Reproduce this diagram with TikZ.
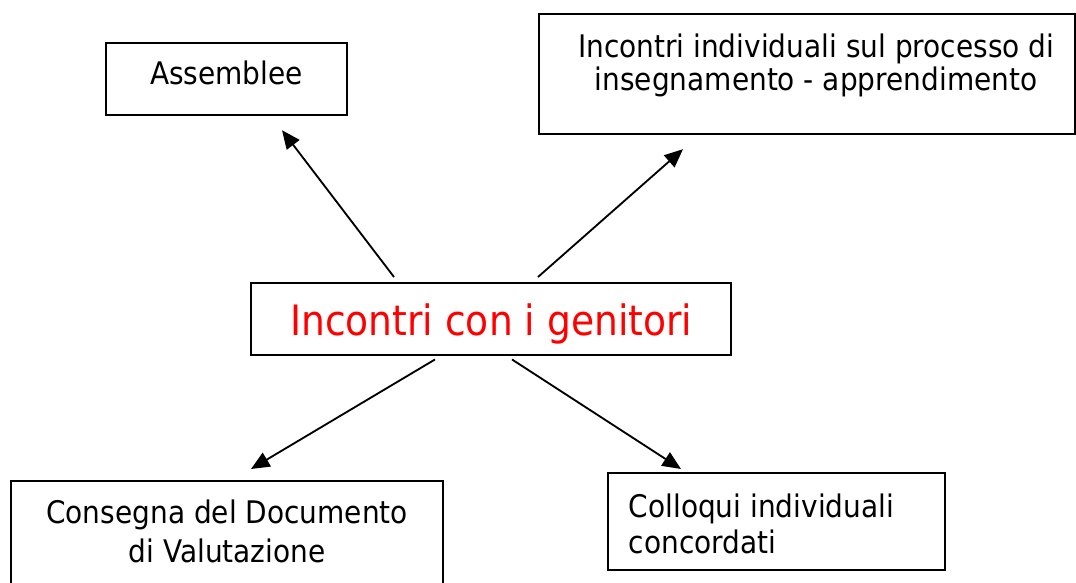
\documentclass[tikz,border=0pt]{standalone}
\usepackage{fontspec}
\setmainfont{DejaVu Sans}[FakeStretch=0.9]
\usetikzlibrary{positioning,arrows.meta}
\tikzset{
  box/.style={draw, line width=1.25pt, inner sep=0pt, anchor=north west},
  lbl/.style={inner sep=0pt, font=\fontsize{17.7}{18.7}\selectfont},
  link/.style={line width=1.05pt, -{Triangle[length=10.5pt,width=9pt]}}
}

\begin{document}
\begin{tikzpicture}
  \useasboundingbox (0,0) rectangle (21.52,-11.66);

  % boxes
  \node[box, minimum width=4.82cm, minimum height=1.44cm] (assem) at (2.10,-0.84) {};
  \node[box, minimum width=10.72cm, minimum height=2.40cm] (indiv) at (10.76,-0.26) {};
  \node[box, line width=1.4pt, minimum width=9.60cm, minimum height=1.44cm,
        text=red, font=\fontsize{23.8}{27}\selectfont, text depth=0pt] (cent) at (5.00,-5.64)
        {Incontri con i genitori};
  \node[box, minimum width=8.64cm, minimum height=2.60cm] (cons) at (0.20,-9.60) {};
  \node[box, minimum width=6.74cm, minimum height=1.94cm] (coll) at (12.14,-9.44) {};

  % texts
  \node[lbl, anchor=north, below=0.37cm of assem.north] (assemtxt) {Assemblee};
  \node[lbl, anchor=north, align=center, below=0.41cm of indiv.north, xshift=0.18cm] (indivtxt)
       {Incontri individuali sul processo di\\insegnamento - apprendimento};
  \node[lbl, anchor=north, align=center, font=\fontsize{17.7}{22.1}\selectfont,
        below=0.39cm of cons.north] (constxt)
       {Consegna del Documento\\di Valutazione};
  \node[lbl, align=left, font=\fontsize{17.7}{20.4}\selectfont,
        below right=0.43cm and 0.43cm of coll.north west] (colltxt)
       {Colloqui individuali\\concordati};

  % arrows
  \draw[link] ([shift={(2.88,0.10)}]cent.north west) -- ([shift={(3.54,-0.28)}]assem.south west);
  \draw[link] ([shift={(5.76,0.10)}]cent.north west) -- ([shift={(2.90,-0.28)}]indiv.south west);
  \draw[link] ([shift={(3.70,-0.06)}]cent.south west) -- ([shift={(4.82,0.22)}]cons.north west);
  \draw[link] ([shift={(5.24,-0.06)}]cent.south west) -- ([shift={(1.48,0.06)}]coll.north west);
\end{tikzpicture}
\end{document}
